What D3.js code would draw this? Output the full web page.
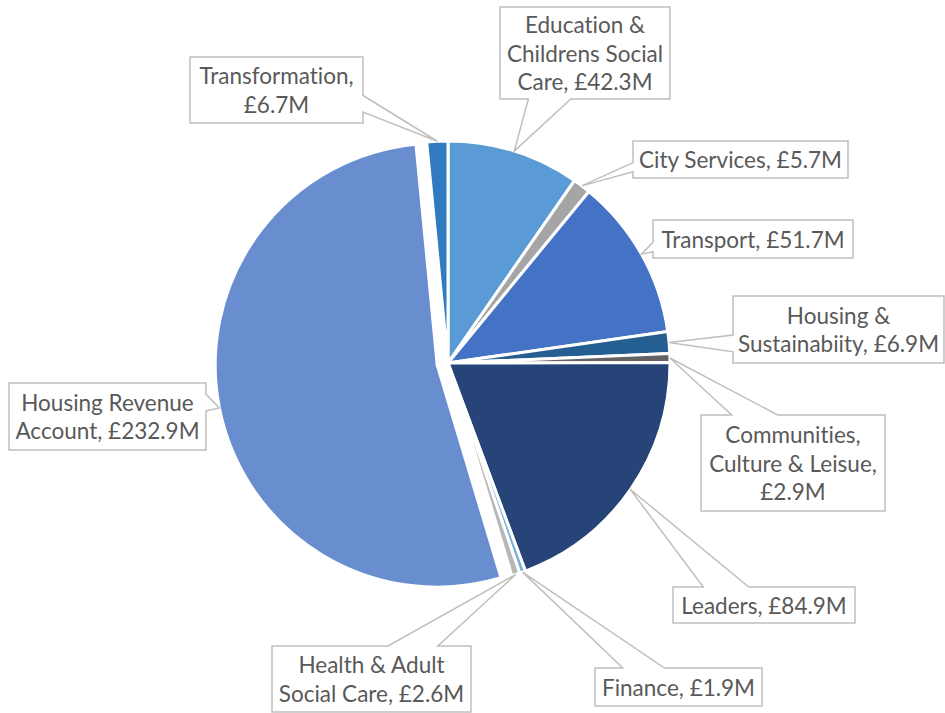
<!DOCTYPE html>
<html>
<head>
<meta charset="utf-8">
<script src="https://cdn.jsdelivr.net/npm/d3@7/dist/d3.min.js"></script>
<style>
  body { margin: 0; background: #fff; }
  svg { display: block; }
</style>
</head>
<body>
<svg id="chart"></svg>
<script>
// data, clockwise from 12 o'clock
const categories = [
  "Education & Childrens Social Care", "City Services", "Transport",
  "Housing & Sustainabiity", "Communities, Culture & Leisue", "Leaders",
  "Finance", "Health & Adult Social Care", "Housing Revenue Account", "Transformation"
]
const values = [42.3, 5.7, 51.7, 6.9, 2.9, 84.9, 1.9, 2.6, 232.9, 6.7]
const labelLines = [
  ["Education &", "Childrens Social", "Care, £42.3M"],
  ["City Services, £5.7M"],
  ["Transport, £51.7M"],
  ["Housing &", "Sustainabiity, £6.9M"],
  ["Communities,", "Culture & Leisue,", "£2.9M"],
  ["Leaders, £84.9M"],
  ["Finance, £1.9M"],
  ["Health & Adult", "Social Care, £2.6M"],
  ["Housing Revenue", "Account, £232.9M"],
  ["Transformation,", "£6.7M"]
]

const colors = ["#5B9BD5", "#A5A5A5", "#4472C4", "#255E91", "#636363",
                "#264478", "#7CAFDD", "#B7B7B7", "#698ED0", "#2F7AC0"]
const explode = [0, 0, 0, 0, 0, 0, 0, 0, 11, 0]
// label boxes were placed by hand: [x, y, w, h]
const boxes = [
  [500, 7, 170, 92], [633, 141, 215, 37], [653, 220, 200, 38],
  [733, 296, 211, 67], [701, 415, 184, 96], [673, 587, 182, 36],
  [595, 668, 167, 38], [272, 646, 199, 66], [9, 383, 197, 67],
  [190, 57, 173, 66]
]

const width = 945
const height = 713
const cx = 448, cy = 363, radius = 222
const lineH = 28.5

const svg = d3.select("#chart")
  .attr("width", width)
  .attr("height", height)
  .style("background", "#FFFFFF")

const pie = d3.pie().sort(null).value(d => d)
const arcs = pie(values)
const arc = d3.arc().innerRadius(0).outerRadius(radius)

const offset = (d, i) => {
  const a = (d.startAngle + d.endAngle) / 2
  return [explode[i] * Math.sin(a), -explode[i] * Math.cos(a)]
}

const g = svg.append("g").attr("transform", `translate(${cx},${cy})`)

g.selectAll("path")
  .data(arcs)
  .enter()
  .append("path")
  .attr("d", arc)
  .attr("transform", (d, i) => `translate(${offset(d, i)})`)
  .attr("fill", (d, i) => colors[i])
  .attr("stroke", "#FFFFFF")
  .attr("stroke-width", 3)
  .attr("stroke-linejoin", "round")

// excel style wedge callout
function callout(x, y, w, h, ax, ay) {
  const dx = ax - (x + w / 2), dy = ay - (y + h / 2)
  const dq = dx * h / w
  let pts
  if (Math.abs(dy) > Math.abs(dq)) {
    const x1 = x + w * (dx > 0 ? 7 : 2) / 12, x2 = x + w * (dx > 0 ? 10 : 5) / 12
    if (dy < 0) pts = [[x, y], [x1, y], [ax, ay], [x2, y], [x + w, y], [x + w, y + h], [x, y + h]]
    else pts = [[x, y], [x + w, y], [x + w, y + h], [x2, y + h], [ax, ay], [x1, y + h], [x, y + h]]
  } else {
    const y1 = y + h * (dy > 0 ? 7 : 2) / 12, y2 = y + h * (dy > 0 ? 10 : 5) / 12
    if (dx > 0) pts = [[x, y], [x + w, y], [x + w, y1], [ax, ay], [x + w, y2], [x + w, y + h], [x, y + h]]
    else pts = [[x, y], [x + w, y], [x + w, y + h], [x, y + h], [x, y2], [ax, ay], [x, y1]]
  }
  return "M" + pts.join("L") + "Z"
}

const labels = svg.append("g")
  .selectAll("g")
  .data(arcs)
  .enter()
  .append("g")

labels.append("path")
  .attr("d", (d, i) => {
    const a = (d.startAngle + d.endAngle) / 2
    const o = offset(d, i)
    const ax = cx + o[0] + radius * Math.sin(a)
    const ay = cy + o[1] - radius * Math.cos(a)
    const [x, y, w, h] = boxes[i]
    return callout(x, y, w, h, ax, ay)
  })
  .attr("fill", "#FFFFFF")
  .attr("stroke", "#BFBFBF")
  .attr("stroke-width", 1.5)

labels.append("text")
  .attr("text-anchor", "middle")
  .style("font-family", "Lato, 'Open Sans', sans-serif")
  .style("font-size", "22.5px")
  .style("font-variant-ligatures", "none")
  .style("font-feature-settings", "'liga' 0, 'clig' 0")
  .attr("fill", "#595959")
  .each(function (d, i) {
    const [x, y, w, h] = boxes[i]
    const lines = labelLines[i]
    const top = y + h / 2 - lines.length * lineH / 2
    d3.select(this).selectAll("tspan")
      .data(lines)
      .enter()
      .append("tspan")
      .attr("x", x + w / 2)
      .attr("y", (l, j) => top + j * lineH + lineH * 0.8)
      .text(l => l)
  })
</script>
</body>
</html>
